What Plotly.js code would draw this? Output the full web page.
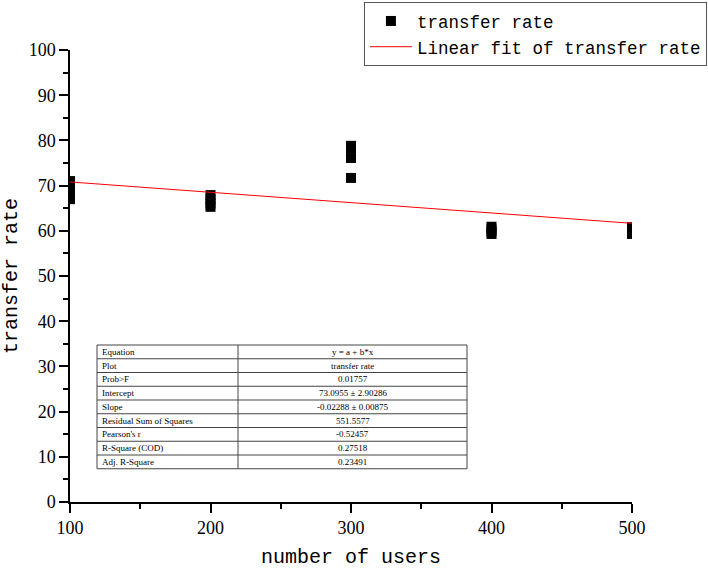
<!DOCTYPE html>
<html>
<head>
<meta charset="utf-8">
<script src="https://cdn.plot.ly/plotly-3.0.1.min.js"></script>
<style>
  html, body { margin: 0; padding: 0; background: #fff; }
  #chart { width: 708px; height: 572px; }
</style>
</head>
<body>
<div id="chart"></div>
<script>
// measured points (4 runs per user count)
const users = [100, 100, 100, 100, 200, 200, 200, 200, 300, 300, 300, 300, 400, 400, 400, 400, 500, 500, 500, 500];
const rates = [71.0, 69.5, 68.2, 67.0, 67.9, 67.0, 66.0, 65.3, 78.8, 78.3, 76.1, 71.7, 60.9, 60.3, 59.8, 59.3, 60.8, 60.2, 59.7, 59.3];

// linear fit result
const fitIntercept = 73.0955;
const fitSlope = -0.02288;
const fitX = [100, 500];

// fit statistics table
const statNames = ['Equation', 'Plot', 'Prob&gt;F', 'Intercept', 'Slope', 'Residual Sum of Squares', "Pearson's r", 'R-Square (COD)', 'Adj. R-Square'];
const statValues = ['y = a + b*x', 'transfer rate', '0.01757', '73.0955 \u00b1 2.90286', '-0.02288 \u00b1 0.00875', '551.5577', '-0.52457', '0.27518', '0.23491'];

const xTicks = [100, 200, 300, 400, 500];
const yTicks = [0, 10, 20, 30, 40, 50, 60, 70, 80, 90, 100];

const font = 'Liberation Mono, DejaVu Sans Mono, monospace';
const serif = 'Liberation Serif, DejaVu Serif, serif';

const margin = { l: 70, r: 76, t: 50, b: 70 };
const plotW = 708 - margin.l - margin.r;
const plotH = 572 - margin.t - margin.b;
// pixel -> paper helpers for the stats box
const px = v => (v - margin.l) / plotW;
const py = v => (572 - margin.b - v) / plotH;

const points = {
    x: users,
    y: rates,
    mode: 'markers',
    type: 'scatter',
    name: 'transfer rate',
    marker: { symbol: 'square', size: 10, color: '#000' },
};

const fit = {
    x: fitX,
    y: fitX.map(x => fitIntercept + fitSlope * x),
    mode: 'lines',
    type: 'scatter',
    name: 'Linear fit of transfer rate',
    line: { color: '#ff0000', width: 1 },
};

// stats box drawn with shapes + annotations
const box = { left: 97, mid: 238, right: 467, top: 345, row: 13.75 };
const boxBottom = box.top + box.row * statNames.length;
const shapes = [];
const annotations = [];
const gridLine = { color: '#444', width: 1 };
shapes.push({ type: 'rect', xref: 'paper', yref: 'paper', x0: px(box.left), x1: px(box.right), y0: py(box.top), y1: py(boxBottom), line: gridLine, fillcolor: '#fff', layer: 'above' });
shapes.push({ type: 'line', xref: 'paper', yref: 'paper', x0: px(box.mid), x1: px(box.mid), y0: py(box.top), y1: py(boxBottom), line: gridLine });
statNames.forEach((name, i) => {
    const yTop = box.top + box.row * i;
    const yc = py(yTop + box.row / 2);
    if (i > 0) {
        shapes.push({ type: 'line', xref: 'paper', yref: 'paper', x0: px(box.left), x1: px(box.right), y0: py(yTop), y1: py(yTop), line: gridLine });
    }
    annotations.push({ xref: 'paper', yref: 'paper', x: px(box.left + 3), y: yc, xanchor: 'left', yanchor: 'middle', text: name, showarrow: false, font: { family: serif, size: 9, color: '#000' } });
    annotations.push({ xref: 'paper', yref: 'paper', x: px((box.mid + box.right) / 2), y: yc, xanchor: 'center', yanchor: 'middle', text: statValues[i], showarrow: false, font: { family: serif, size: 9, color: '#000' } });
});

const layout = {
    width: 708,
    height: 572,
    margin: Object.assign({ autoexpand: false }, margin),
    paper_bgcolor: '#fff',
    plot_bgcolor: '#fff',
    font: { family: font, color: '#000', size: 16 },
    showlegend: true,
    legend: {
        x: 0.523, y: 1.106, xanchor: 'left', yanchor: 'top',
        bordercolor: '#555', borderwidth: 1,
        font: { family: font, size: 17.5 },
        itemwidth: 42,
        tracegroupgap: 0,
    },
    shapes: shapes,
    annotations: annotations,
    xaxis: {
        range: [100, 500],
        tickvals: xTicks,
        tickfont: { family: serif, size: 18 },
        showgrid: false, zeroline: false,
        showline: true, linecolor: '#000', linewidth: 1.5,
        ticks: 'outside', ticklen: 9, tickwidth: 1.5, tickcolor: '#000',
        minor: { dtick: 50, ticks: 'outside', ticklen: 5, tickwidth: 1.5, tickcolor: '#000', showgrid: false },
        title: { text: 'number of users', font: { size: 20 }, standoff: 12 },
    },
    yaxis: {
        range: [0, 100],
        tickvals: yTicks,
        tickfont: { family: serif, size: 18 },
        showgrid: false, zeroline: false,
        showline: true, linecolor: '#000', linewidth: 1.5,
        ticks: 'outside', ticklen: 9, tickwidth: 1.5, tickcolor: '#000',
        minor: { dtick: 5, ticks: 'outside', ticklen: 5, tickwidth: 1.5, tickcolor: '#000', showgrid: false },
        title: { text: 'transfer rate', font: { size: 20 }, standoff: 14 },
    },
};

Plotly.newPlot('chart', [points, fit], layout, { displayModeBar: false });
</script>
</body>
</html>
